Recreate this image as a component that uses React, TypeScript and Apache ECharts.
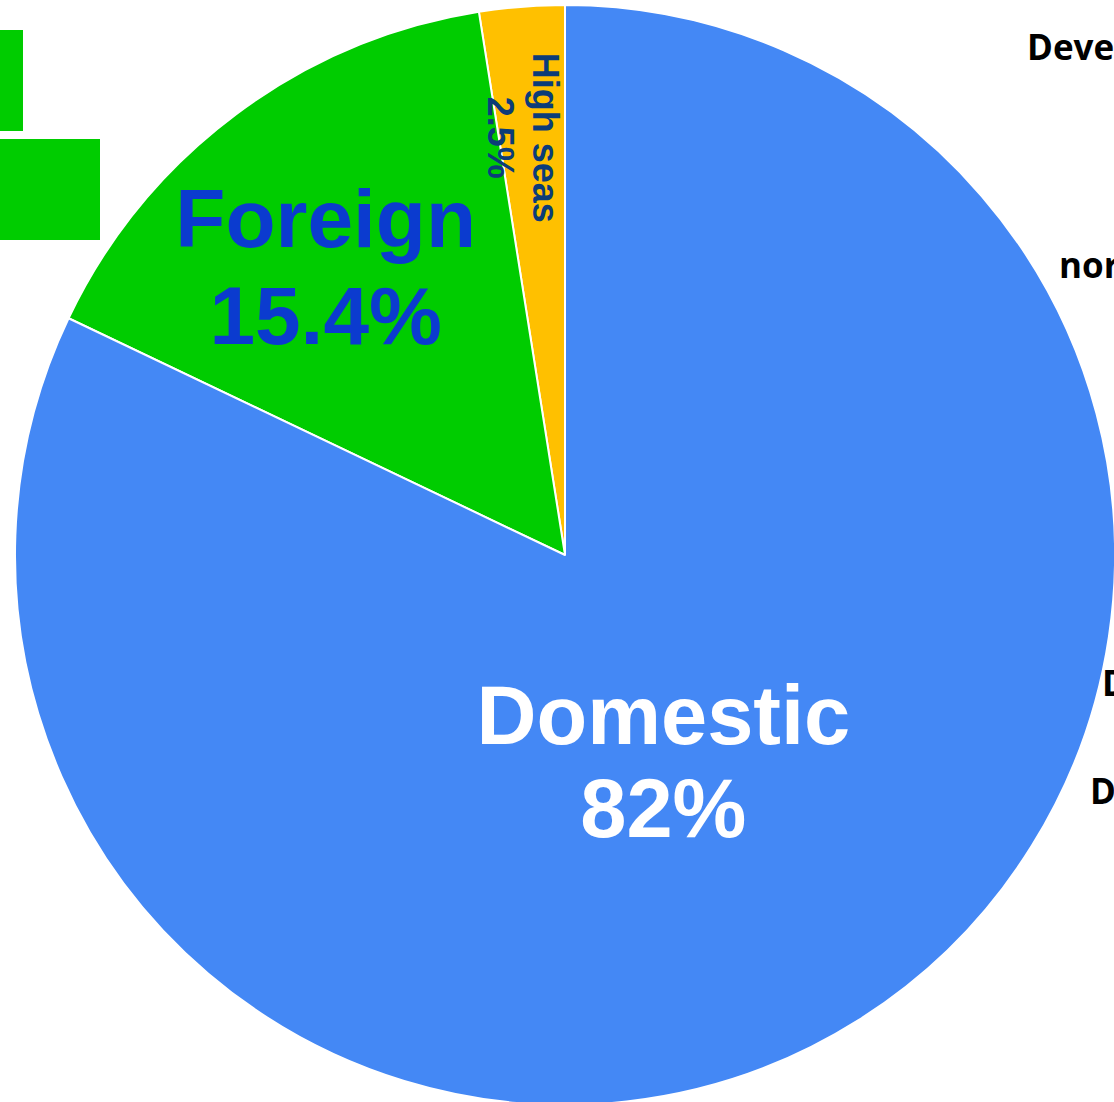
import React, { useEffect, useRef } from "react";
import * as echarts from "echarts";

const names = ["High seas", "Foreign", "Domestic"];
const values = [2.5, 15.4, 82];
const colors = ["#FFC000", "#00CC00", "#4488F5"];
const labelColors = ["#0C3C78", "#0B3BCF", "#FFFFFF"];
const labelSizes = [36, 82, 83];
const labelLineHeights = [45, 97, 93];
const labelOffsets = [[-140, 20], [-73, -65], [-50, -28]];
const labelRotations = [-90, 0, 0];

const sideTexts = ["Deve", "nor", "D", "D"];
const sideTextX = [1027, 1059, 1102, 1090];
const sideTextY = [46, 264, 682, 790];

export default function App() {
  const ref = useRef<HTMLDivElement>(null);
  useEffect(() => {
    if (!ref.current) return;
    const chart = echarts.init(ref.current, null, { renderer: "svg" });
    const data = names.map((n, i) => ({
      name: n,
      value: values[i],
      itemStyle: { color: colors[i] },
      label: {
        show: true,
        position: "inside",
        formatter: "{b}\n{c}%",
        color: labelColors[i],
        fontSize: labelSizes[i],
        lineHeight: labelLineHeights[i],
        fontWeight: "bold",
        fontFamily: "Liberation Sans, Arial, sans-serif",
        rotate: labelRotations[i],
        offset: labelOffsets[i],
        align: "center",
        verticalAlign: "middle",
      },
    }));
    chart.setOption({
      animation: false,
      backgroundColor: "#ffffff",
      series: [
        {
          type: "pie",
          center: [565, 555],
          radius: 550,
          startAngle: 90,
          clockwise: false,
          silent: true,
          avoidLabelOverlap: false,
          labelLayout: { hideOverlap: false },
          labelLine: { show: false },
          itemStyle: { borderColor: "#ffffff", borderWidth: 2 },
          emphasis: { disabled: true },
          data,
        },
      ],
      graphic: [
        { type: "rect", shape: { x: 0, y: 30, width: 23, height: 101 }, style: { fill: "#00CC00" } },
        { type: "rect", shape: { x: 0, y: 139, width: 100, height: 101 }, style: { fill: "#00CC00" } },
        ...sideTexts.map((t, i) => ({
          type: "text",
          x: sideTextX[i],
          y: sideTextY[i],
          style: {
            text: t,
            fill: "#000000",
            font: "bold 35px 'Open Sans', sans-serif",
            textAlign: "left",
            textVerticalAlign: "middle",
          },
        })),
      ],
    });
    return () => chart.dispose();
  }, []);
  return (
    <div
      ref={ref}
      style={{ position: "absolute", left: 0, top: 0, width: 1114, height: 1102 }}
    />
  );
}
